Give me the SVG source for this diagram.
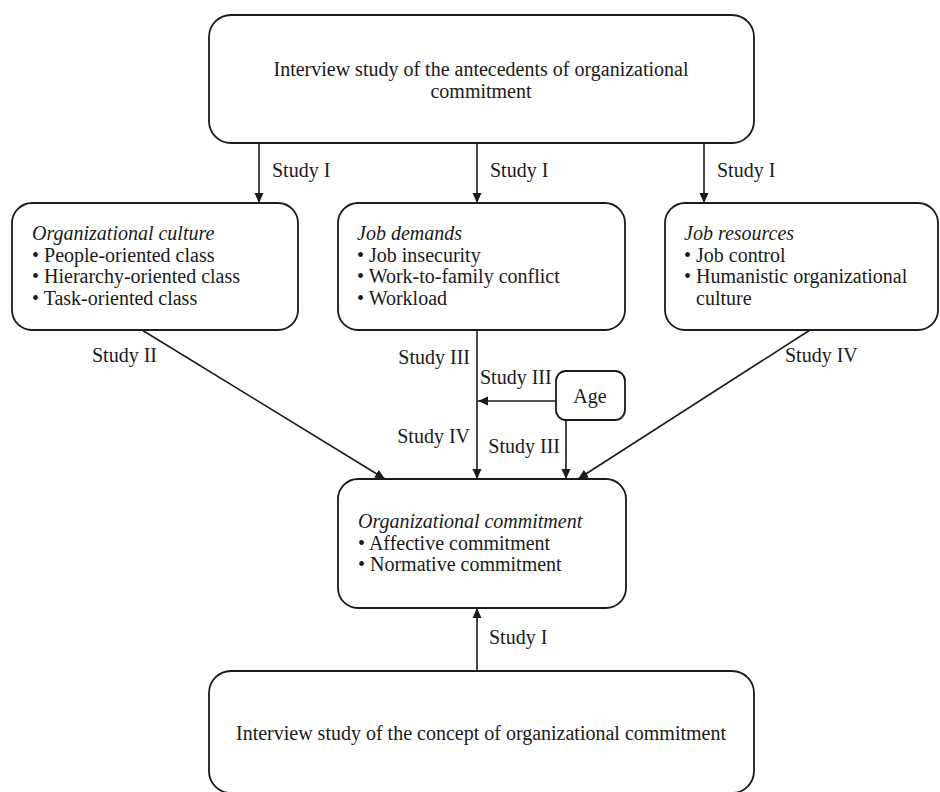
<svg xmlns="http://www.w3.org/2000/svg" width="940" height="792" viewBox="0 0 940 792">
<defs>
<marker id="ah" viewBox="0 0 10 10" refX="10" refY="5" markerWidth="10" markerHeight="10" markerUnits="userSpaceOnUse" orient="auto">
<path d="M0,0.5 L10,5 L0,9.5 Z" fill="#1a1a1a"/>
</marker>
<style>
.box{fill:#fff;stroke:#1a1a1a;stroke-width:1.8}
.t{font-family:"Liberation Serif","Times New Roman",serif;font-size:20px;fill:#1a1a1a}
.i{font-style:italic}
.c{text-anchor:middle}
.e{text-anchor:end}
.ln{stroke:#1a1a1a;stroke-width:1.6;fill:none;marker-end:url(#ah)}
</style>
</defs>
<rect width="940" height="792" fill="#fff"/>
<g id="connectors">
<line class="ln" x1="259" y1="143" x2="259" y2="203"/>
<line class="ln" x1="477" y1="143" x2="477" y2="203"/>
<line class="ln" x1="704" y1="143" x2="704" y2="203"/>
<line class="ln" x1="142" y1="330" x2="385" y2="479"/>
<line class="ln" x1="477" y1="330" x2="477" y2="479"/>
<line class="ln" x1="556" y1="401" x2="478" y2="401"/>
<line class="ln" x1="566" y1="420" x2="566" y2="479"/>
<line class="ln" x1="810" y1="330" x2="578" y2="479"/>
<line class="ln" x1="477" y1="671" x2="477" y2="608"/>
<text class="t" x="272" y="177">Study I</text>
<text class="t" x="490" y="177">Study I</text>
<text class="t" x="717" y="177">Study I</text>
<text class="t" x="92" y="362">Study II</text>
<text class="t e" x="470" y="364">Study III</text>
<text class="t" x="480" y="384">Study III</text>
<text class="t e" x="470" y="443">Study IV</text>
<text class="t e" x="560" y="453">Study III</text>
<text class="t" x="785" y="362">Study IV</text>
<text class="t" x="489" y="644">Study I</text>
</g>
<g id="node-top">
<rect class="box" x="209" y="15" width="545" height="128" rx="22"/>
<text class="t c" x="481" y="76">Interview study of the antecedents of organizational</text>
<text class="t c" x="481" y="98">commitment</text>
</g>
<g id="node-culture">
<rect class="box" x="12" y="203" width="286" height="127" rx="20"/>
<text class="t i" x="32" y="240">Organizational culture</text>
<text class="t" x="32" y="262">• People-oriented class</text>
<text class="t" x="32" y="283">• Hierarchy-oriented class</text>
<text class="t" x="32" y="305">• Task-oriented class</text>
</g>
<g id="node-demands">
<rect class="box" x="338" y="203" width="287" height="127" rx="20"/>
<text class="t i" x="357" y="240">Job demands</text>
<text class="t" x="357" y="262">• Job insecurity</text>
<text class="t" x="357" y="283">• Work-to-family conflict</text>
<text class="t" x="357" y="305">• Workload</text>
</g>
<g id="node-resources">
<rect class="box" x="665" y="203" width="273" height="127" rx="20"/>
<text class="t i" x="684" y="240">Job resources</text>
<text class="t" x="684" y="262">• Job control</text>
<text class="t" x="684" y="283">• Humanistic organizational</text>
<text class="t" x="696" y="305">culture</text>
</g>
<g id="node-age">
<rect class="box" x="556" y="371" width="69" height="49" rx="10"/>
<text class="t c" x="590" y="403">Age</text>
</g>
<g id="node-commitment">
<rect class="box" x="338" y="479" width="288" height="129" rx="20"/>
<text class="t i" x="358" y="528">Organizational commitment</text>
<text class="t" x="358" y="550">• Affective commitment</text>
<text class="t" x="358" y="571">• Normative commitment</text>
</g>
<g id="node-bottom">
<rect class="box" x="209" y="671" width="545" height="122" rx="22"/>
<text class="t c" x="481" y="740">Interview study of the concept of organizational commitment</text>
</g>
</svg>
